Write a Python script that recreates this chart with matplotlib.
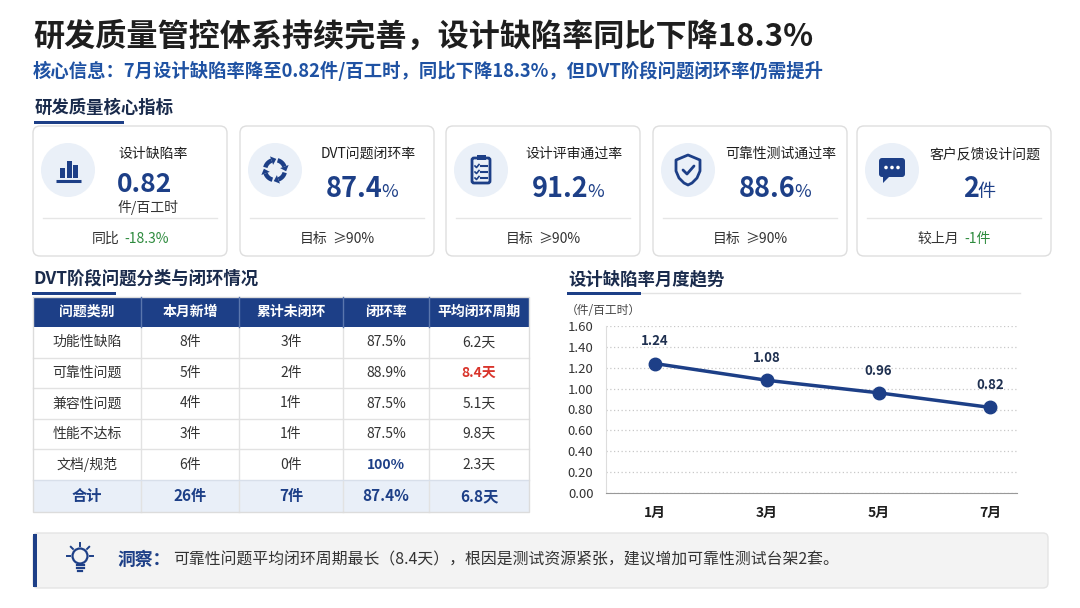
import matplotlib
matplotlib.use('Agg')
import matplotlib.pyplot as plt
from matplotlib.patches import FancyBboxPatch, Rectangle, Circle, Polygon
import numpy as np

plt.rcParams['font.family'] = ['Noto Sans CJK SC', 'DejaVu Sans']

# ---------------- data ----------------
title = "研发质量管控体系持续完善，设计缺陷率同比下降18.3%"
subtitle = "核心信息：7月设计缺陷率降至0.82件/百工时，同比下降18.3%，但DVT阶段问题闭环率仍需提升"
section_kpi = "研发质量核心指标"
section_table = "DVT阶段问题分类与闭环情况"
section_chart = "设计缺陷率月度趋势"

kpi_titles = ["设计缺陷率", "DVT问题闭环率", "设计评审通过率", "可靠性测试通过率", "客户反馈设计问题"]
kpi_values = ["0.82", "87.4", "91.2", "88.6", "2"]
kpi_units = ["件/百工时", "%", "%", "%", "件"]
kpi_foot_labels = ["同比", "目标", "目标", "目标", "较上月"]
kpi_foot_values = ["-18.3%", "≥90%", "≥90%", "≥90%", "-1件"]
kpi_foot_good = [True, False, False, False, True]

table_cols = ["问题类别", "本月新增", "累计未闭环", "闭环率", "平均闭环周期"]
categories = ["功能性缺陷", "可靠性问题", "兼容性问题", "性能不达标", "文档/规范"]
new_counts = [8, 5, 4, 3, 6]
open_counts = [3, 2, 1, 1, 0]
close_rates = [87.5, 88.9, 87.5, 87.5, 100]
avg_cycle = [6.2, 8.4, 5.1, 9.8, 2.3]
highlight_row = 1
total_label = "合计"
total_new = 26
total_open = 7
total_rate = 87.4
total_cycle = 6.8

months = ["1月", "3月", "5月", "7月"]
defect_rate = [1.24, 1.08, 0.96, 0.82]
y_ticks = [0.0, 0.2, 0.4, 0.6, 0.8, 1.0, 1.2, 1.4, 1.6]
y_unit = "（件/百工时）"

insight_head = "洞察："
insight_text = "可靠性问题平均闭环周期最长（8.4天），根因是测试资源紧张，建议增加可靠性测试台架2套。"

# ---------------- style ----------------
W, H = 1080, 608
NAVY = "#1d3f87"
DARK = "#1e1e1e"
TXT = "#333333"
BLUE = "#1f52a3"
GREEN = "#2e8b3e"
RED = "#d9342b"
ICONBG = "#eaf0f8"

fig = plt.figure(figsize=(W / 100, H / 100), dpi=100)
fig.patch.set_facecolor("white")
bg = fig.add_axes([0, 0, 1, 1])
bg.set_xlim(0, W)
bg.set_ylim(H, 0)
bg.axis("off")
R = fig.canvas.get_renderer()


def rich(x, y, parts, ha="left", va="center", gap=0):
    texts, widths = [], []
    for s, props in parts:
        t = bg.text(0, y, s, ha="left", va=va, **props)
        widths.append(t.get_window_extent(renderer=R).width)
        texts.append(t)
    total = sum(widths) + gap * (len(parts) - 1)
    cur = x - total / 2 if ha == "center" else x
    for t, w in zip(texts, widths):
        t.set_x(cur)
        cur += w + gap


# titles
bg.text(33, 37, title, fontsize=22.4, fontweight="bold", color=DARK, va="center")
bg.text(33, 71, subtitle, fontsize=13.2, fontweight="bold", color=BLUE, va="center")


def section(x, y, text, ul_w, gray_to=None):
    bg.text(x, y, text, fontsize=12.5, fontweight="bold", color="#1a2b4c", va="center")
    if gray_to:
        bg.plot([x, gray_to], [y + 14, y + 14], color="#e3e3e3", lw=1, zorder=1)
    bg.add_patch(Rectangle((x - 1, y + 13), ul_w, 2.6, color=NAVY, zorder=2, lw=0))


section(35, 108, section_kpi, 90)
section(33, 279, section_table, 84)
section(568, 279, section_chart, 74, gray_to=1020)

# ---------------- KPI cards ----------------
card_x = [33, 240, 446, 653, 857]
card_w = 194
card_top, card_bot = 126, 256
for i in range(len(kpi_titles)):
    x0 = card_x[i]
    bg.add_patch(FancyBboxPatch((x0, card_top), card_w, card_bot - card_top,
                                boxstyle="round,pad=0,rounding_size=7",
                                fc="white", ec="#dedede", lw=1, zorder=1))
    bg.plot([x0 + 10, x0 + card_w - 10], [218, 218], color="#e6e6e6", lw=1, zorder=2)
    icx, icy = x0 + 35, 170
    bg.add_patch(Circle((icx, icy), 27, fc=ICONBG, ec="none", zorder=2))
    # footer
    col = GREEN if kpi_foot_good[i] else TXT
    rich(x0 + card_w / 2, 239, [(kpi_foot_labels[i], dict(fontsize=10, color=TXT)),
                                (kpi_foot_values[i], dict(fontsize=10, color=col))],
         ha="center", gap=5)
    if i == 0:
        bg.text(118, 154, kpi_titles[i], fontsize=10, color=DARK, va="center")
        bg.text(117, 192, kpi_values[i], fontsize=19, fontweight="bold", color=NAVY, va="baseline")
        bg.text(118, 207, kpi_units[i], fontsize=10, color=TXT, va="center")
    else:
        cx = (icx + 27 + x0 + card_w) / 2
        bg.text(cx, 154, kpi_titles[i], fontsize=10, color=DARK, va="center", ha="center")
        rich(cx - 6, 197, [(kpi_values[i], dict(fontsize=19.5, fontweight="bold", color=NAVY)),
                           (kpi_units[i], dict(fontsize=13, color=NAVY))],
             ha="center", va="baseline", gap=-1.5)

# icons
# 1: bar chart
cx, cy = card_x[0] + 35, 170
for dx, h in zip([-8, -1.5, 5], [10, 17, 13]):
    bg.add_patch(Rectangle((cx + dx, cy + 8 - h), 5, h, color=NAVY, lw=0, zorder=3))
bg.plot([cx - 12, cx + 13], [cy + 11, cy + 11], color=NAVY, lw=2.2, zorder=3, solid_capstyle="butt")
# 2: circular arrows
cx, cy = card_x[1] + 35, 170
r = 10
for a0 in [15, 105, 195, 285]:
    th = np.radians(np.linspace(a0, a0 + 55, 20))
    bg.plot(cx + r * np.cos(th), cy + r * np.sin(th), color=NAVY, lw=3.2, zorder=3, solid_capstyle="butt")
    te = th[-1]
    tip = np.array([cx + r * np.cos(te), cy + r * np.sin(te)])
    tan = np.array([-np.sin(te), np.cos(te)])
    nor = np.array([np.cos(te), np.sin(te)])
    pts = [tip + tan * 5, tip + nor * 4.5, tip - nor * 4.5]
    bg.add_patch(Polygon(pts, closed=True, color=NAVY, lw=0, zorder=3))
# 3: clipboard
cx, cy = card_x[2] + 35, 170
bg.add_patch(FancyBboxPatch((cx - 9, cy - 12), 18, 25, boxstyle="round,pad=0,rounding_size=2",
                            fc="none", ec=NAVY, lw=2, zorder=3))
bg.add_patch(Rectangle((cx - 4.5, cy - 15), 9, 5, color=NAVY, lw=0, zorder=3))
for dy in [-4, 2, 8]:
    bg.plot([cx - 6, cx - 4.5, cx - 2], [cy + dy, cy + dy + 1.5, cy + dy - 1.5], color=NAVY, lw=1.2, zorder=3)
    bg.plot([cx, cx + 6], [cy + dy, cy + dy], color=NAVY, lw=1.5, zorder=3)
# 4: shield
cx, cy = card_x[3] + 35, 170
shield = [(cx - 12, cy - 10), (cx, cy - 15), (cx + 12, cy - 10), (cx + 12, cy + 1),
          (cx + 9, cy + 8), (cx + 4, cy + 13), (cx, cy + 15), (cx - 4, cy + 13),
          (cx - 9, cy + 8), (cx - 12, cy + 1)]
bg.add_patch(Polygon(shield, closed=True, fc="none", ec=NAVY, lw=2, joinstyle="round", zorder=3))
bg.plot([cx - 5, cx - 1, cx + 6], [cy, cy + 4, cy - 4], color=NAVY, lw=2, zorder=3, solid_capstyle="round")
# 5: chat bubble
cx, cy = card_x[4] + 35, 168
bg.add_patch(FancyBboxPatch((cx - 13, cy - 10), 26, 19, boxstyle="round,pad=0,rounding_size=3",
                            fc=NAVY, ec="none", zorder=3))
bg.add_patch(Polygon([(cx - 9, cy + 8), (cx - 9, cy + 15), (cx - 2, cy + 8)], closed=True,
                     fc=NAVY, ec="none", zorder=3))
for dx in [-6, 0, 6]:
    bg.add_patch(Circle((cx + dx, cy - 0.5), 1.8, fc="white", ec="none", zorder=4))

# ---------------- table ----------------
col_w = [108, 98, 104, 86, 100]
col_edges = np.concatenate([[33], 33 + np.cumsum(col_w)])
col_cent = (col_edges[:-1] + col_edges[1:]) / 2
hdr_top, hdr_bot = 297, 327
row_h = 30.6
tot_h = 32
n = len(categories)
body_bot = hdr_bot + n * row_h
tab_bot = body_bot + tot_h

bg.add_patch(Rectangle((col_edges[0], hdr_top), col_edges[-1] - col_edges[0], hdr_bot - hdr_top,
                       fc=NAVY, ec="none", zorder=2))
bg.add_patch(Rectangle((col_edges[0], body_bot), col_edges[-1] - col_edges[0], tot_h,
                       fc="#e9eff8", ec="none", zorder=1))
bg.add_patch(Rectangle((col_edges[0], hdr_top), col_edges[-1] - col_edges[0], tab_bot - hdr_top,
                       fc="none", ec="#dcdcdc", lw=1, zorder=3))
for xe in col_edges[1:-1]:
    bg.plot([xe, xe], [hdr_top, hdr_bot], color="#5a76ad", lw=1, zorder=3)
    bg.plot([xe, xe], [hdr_bot, tab_bot], color="#e2e2e2", lw=1, zorder=2)
for j, name in enumerate(table_cols):
    bg.text(col_cent[j], (hdr_top + hdr_bot) / 2, name, ha="center", va="center",
            fontsize=10, fontweight="bold", color="white", zorder=4)
for i in range(n):
    yc = hdr_bot + (i + 0.5) * row_h
    if i > 0:
        bg.plot([col_edges[0], col_edges[-1]], [hdr_bot + i * row_h] * 2, color="#e2e2e2", lw=1, zorder=2)
    cells = [categories[i], f"{new_counts[i]}件", f"{open_counts[i]}件",
             f"{close_rates[i]:g}%", f"{avg_cycle[i]}天"]
    for j, s in enumerate(cells):
        props = dict(fontsize=10, color=TXT)
        if j == 3 and close_rates[i] >= 100:
            props = dict(fontsize=10, color=NAVY, fontweight="bold")
        if j == 4 and i == highlight_row:
            props = dict(fontsize=10, color=RED, fontweight="bold")
        bg.text(col_cent[j], yc, s, ha="center", va="center", zorder=4, **props)
bg.plot([col_edges[0], col_edges[-1]], [body_bot] * 2, color="#d8dfea", lw=1, zorder=2)
tot_cells = [total_label, f"{total_new}件", f"{total_open}件", f"{total_rate:g}%", f"{total_cycle}天"]
for j, s in enumerate(tot_cells):
    bg.text(col_cent[j], body_bot + tot_h / 2, s, ha="center", va="center", fontsize=11,
            fontweight="bold", color=NAVY, zorder=4)

# ---------------- line chart ----------------
bg.text(566, 310, y_unit, fontsize=8.5, color="#444444", va="center")
axc = fig.add_axes([606 / W, (H - 493) / H, (1017 - 606) / W, (493 - 326) / H])
xs = np.arange(len(months))
axc.plot(xs, defect_rate, color=NAVY, lw=2.5, marker="o", ms=9, zorder=3, clip_on=False)
for xi, v in zip(xs, defect_rate):
    axc.annotate(f"{v:.2f}", (xi, v), xytext=(0, 16), textcoords="offset points", ha="center",
                 va="center", fontsize=9.5, fontweight="bold", color="#1f3050")
axc.set_xlim(-0.44, 3.24)
axc.set_ylim(0, 1.6)
axc.set_yticks(y_ticks)
axc.set_yticklabels([f"{t:.2f}" for t in y_ticks], fontsize=9.5, color=TXT)
axc.set_xticks(xs)
axc.set_xticklabels(months, fontsize=10, fontweight="bold", color=DARK)
axc.tick_params(axis="y", length=0, pad=9)
axc.tick_params(axis="x", length=0, pad=9)
axc.grid(axis="y", linestyle=(0, (1, 2)), color="#c8c8c8", lw=0.9)
axc.set_axisbelow(True)
for s in ["top", "right"]:
    axc.spines[s].set_visible(False)
axc.spines["left"].set_color("#dddddd")
axc.spines["bottom"].set_color("#999999")
axc.patch.set_alpha(0)

# ---------------- insight box ----------------
bg.add_patch(FancyBboxPatch((33, 533), 1015, 55, boxstyle="round,pad=0,rounding_size=5",
                            fc="#f3f3f3", ec="#e4e4e4", lw=1, zorder=1))
bg.add_patch(Rectangle((33, 534), 3.5, 53, color=NAVY, lw=0, zorder=2))
# lightbulb icon
bx, by = 80, 556
bg.add_patch(Circle((bx, by), 7.5, fc="none", ec=NAVY, lw=1.6, zorder=3))
for dy, hw in [(9, 3.5), (12, 3.5), (15, 2.2)]:
    bg.plot([bx - hw, bx + hw], [by + dy, by + dy], color=NAVY, lw=1.6, zorder=3)
for ang in [90, 135, 45, 180, 0]:
    a = np.radians(ang)
    bg.plot([bx + 10 * np.cos(a), bx + 13 * np.cos(a)], [by - 10 * np.sin(a), by - 13 * np.sin(a)],
            color=NAVY, lw=1.4, zorder=3)
rich(118, 560, [(insight_head, dict(fontsize=12.8, fontweight="bold", color=NAVY)),
                (insight_text, dict(fontsize=11.4, color=TXT))], gap=2)

fig.savefig("out.png", dpi=100, facecolor="white")
